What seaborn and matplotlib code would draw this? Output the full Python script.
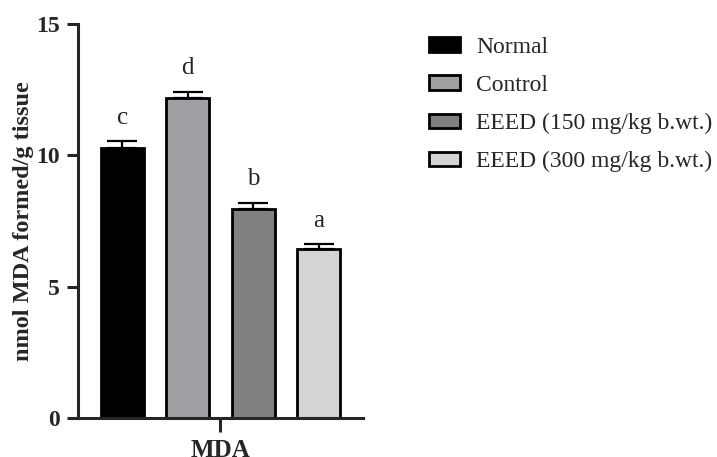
import matplotlib
matplotlib.use("Agg")
import matplotlib.pyplot as plt
import seaborn as sns
import pandas as pd

groups = ["Normal", "Control", "EEED (150 mg/kg b.wt.)", "EEED (300 mg/kg b.wt.)"]
values = [10.29, 12.17, 7.96, 6.42]
errors = [0.24, 0.25, 0.22, 0.19]
letters = ["c", "d", "b", "a"]
colors = ["#000000", "#a0a0a4", "#808080", "#d4d4d4"]
measure = "MDA"
yticks = [0, 5, 10, 15]
ylabel = "nmol MDA formed/g tissue"

sns.set_style("ticks")
plt.rcParams["font.family"] = ["Liberation Serif", "DejaVu Serif"]

df = pd.DataFrame({"measure": [measure] * len(groups), "group": groups, "value": values})

fig = plt.figure(figsize=(7.17, 4.57), dpi=100)
ax = fig.add_axes([0.109, 0.085, 0.397, 0.863])

sns.barplot(data=df, x="measure", y="value", hue="group", hue_order=groups,
            palette=colors, errorbar=None, gap=0.34, width=0.8,
            edgecolor="black", linewidth=2.0, ax=ax)

for cont, err, let in zip(ax.containers, errors, letters):
    p = cont.patches[0]
    xc = p.get_x() + p.get_width() / 2
    h = p.get_height()
    ax.errorbar([xc], [h], yerr=[[0], [err]], fmt="none", ecolor="black",
                elinewidth=1.6, capsize=11, capthick=1.6, zorder=1)
    ax.text(xc, h + err + 0.9, let, ha="center", va="center", fontsize=18)

ax.set_ylim(0, 15)
ax.set_xlim(-0.435, 0.435)
ax.set_yticks(yticks)
ax.set_yticklabels([str(t) for t in yticks], fontsize=17, fontweight="bold")
ax.set_xticks([0])
ax.set_xticklabels([measure], fontsize=18, fontweight="bold")
ax.set_xlabel("")
ax.set_ylabel(ylabel, fontsize=17.5, fontweight="bold", labelpad=2)
for s in ["top", "right"]:
    ax.spines[s].set_visible(False)
for s in ["left", "bottom"]:
    ax.spines[s].set_linewidth(2.2)
ax.tick_params(axis="y", length=8, width=2.2, pad=5)
ax.tick_params(axis="x", length=10, width=2.2, pad=5)

handles, labels = ax.get_legend_handles_labels()
ax.legend(handles, labels, loc="upper left", bbox_to_anchor=(0.585, 0.94),
          bbox_transform=fig.transFigure, frameon=False, fontsize=17,
          handlelength=1.3, handleheight=0.55, handletextpad=0.7,
          labelspacing=0.72, borderaxespad=0)

fig.savefig("out.png", dpi=100)
